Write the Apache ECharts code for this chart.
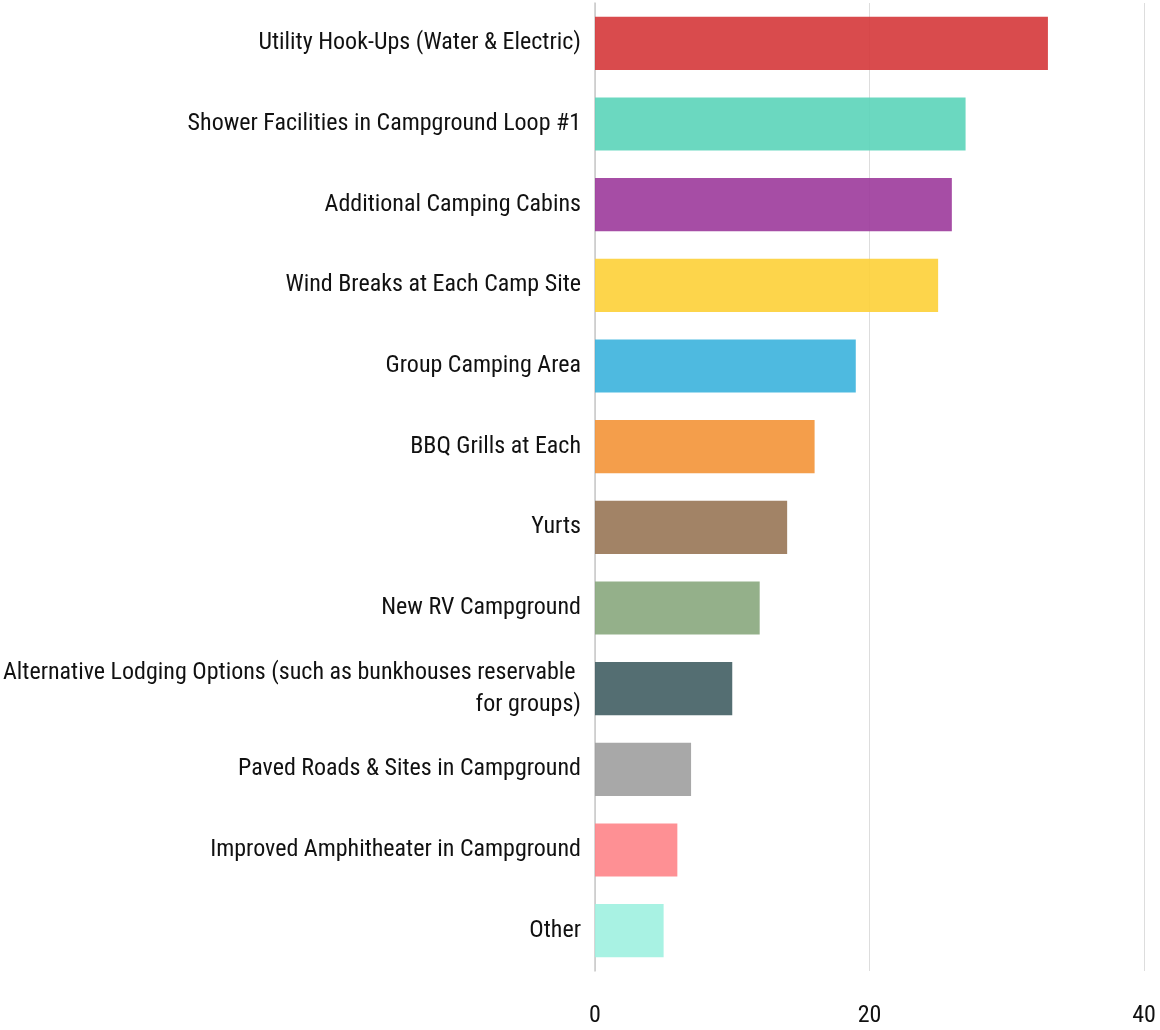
<!DOCTYPE html>
<html>
<head>
<meta charset="utf-8">
<script src="https://cdn.jsdelivr.net/npm/echarts@6/dist/echarts.min.js"></script>
<style>
  html, body { margin: 0; padding: 0; background: #fff; }
  #chart { width: 1160px; height: 1030px; }
</style>
</head>
<body>
<div id="chart"></div>
<script>
// Campground improvement requests, most requested first
const categories = [
  'Utility Hook-Ups (Water & Electric)',
  'Shower Facilities in Campground Loop #1',
  'Additional Camping Cabins',
  'Wind Breaks at Each Camp Site',
  'Group Camping Area',
  'BBQ Grills at Each',
  'Yurts',
  'New RV Campground',
  'Alternative Lodging Options (such as bunkhouses reservable for groups)',
  'Paved Roads & Sites in Campground',
  'Improved Amphitheater in Campground',
  'Other'
];
const votes = [33, 27, 26, 25, 19, 16, 14, 12, 10, 7, 6, 5];
const barColors = [
  '#d5373a', '#5bd4b9', '#9c3a9b', '#fdd037', '#3bb3dd', '#f39437',
  '#987655', '#88a77d', '#415e63', '#9f9f9f', '#fe8488', '#9ef1e0'
];
const axisTicks = [0, 20, 40];

const FONT = '"Roboto Condensed", "Liberation Sans", Arial, sans-serif';

const chart = echarts.init(document.getElementById('chart'), null, { renderer: 'canvas' });

chart.setOption({
  animation: false,
  backgroundColor: '#ffffff',
  grid: {
    left: 595, right: 16, top: 3, bottom: 59,
    containLabel: false,
    outerBoundsMode: 'none'
  },
  xAxis: {
    type: 'value',
    min: axisTicks[0],
    max: axisTicks[axisTicks.length - 1],
    interval: axisTicks[1] - axisTicks[0],
    axisLine: { show: false },
    axisTick: { show: false },
    splitLine: { show: true, lineStyle: { color: '#dddddd', width: 1 } },
    axisLabel: {
      margin: 33,
      color: '#111111',
      fontFamily: FONT,
      fontSize: 24
    }
  },
  yAxis: {
    type: 'category',
    inverse: true,
    data: categories,
    axisLine: { show: true, lineStyle: { color: '#c8c8c8', width: 1.5 } },
    axisTick: { show: false },
    splitLine: { show: false },
    axisLabel: {
      margin: 14,
      color: '#111111',
      fontFamily: FONT,
      fontSize: 24,
      lineHeight: 32,
      width: 580,
      overflow: 'break',
      align: 'right',
      padding: [14, 0, 0, 0]
    }
  },
  series: [{
    type: 'bar',
    data: votes.map((v, i) => ({ value: v, itemStyle: { color: barColors[i] } })),
    barCategoryGap: '34%',
    itemStyle: { opacity: 0.9 }
  }]
});
</script>
</body>
</html>
